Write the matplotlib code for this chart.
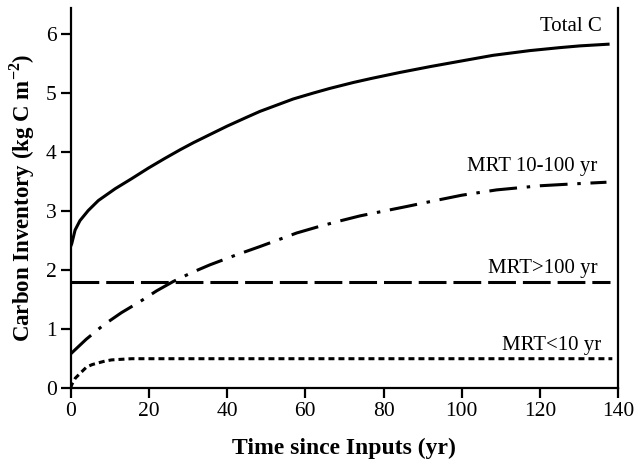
import numpy as np
import matplotlib
matplotlib.use('Agg')
import matplotlib.pyplot as plt
from matplotlib import rcParams

rcParams['font.family'] = 'Liberation Serif'
rcParams['mathtext.fontset'] = 'custom'
rcParams['mathtext.rm'] = 'Liberation Serif'
rcParams['mathtext.bf'] = 'Liberation Serif:bold'
rcParams['lines.scale_dashes'] = False

# carbon pools over time (kg C m-2)
t_total = [0, 0.3, 1.15, 2.4, 4.5, 7.1, 11.4, 15.6, 19.9, 24, 28, 31.4, 36, 40, 45, 48.4,
           56.9, 62, 66.3, 72.3, 77, 84.2, 92, 100.4, 108, 117.4, 125, 130.2, 137.8]
c_total = [2.40, 2.45, 2.68, 2.84, 3.01, 3.18, 3.38, 3.55, 3.73, 3.89, 4.04, 4.16, 4.31, 4.44,
           4.59, 4.69, 4.90, 5.00, 5.08, 5.18, 5.25, 5.35, 5.45, 5.55, 5.64, 5.72, 5.77, 5.80, 5.83]

t_mid = [0, 4, 8.4, 13, 17.8, 22, 26.3, 31, 35.6, 42, 48.4, 52.5, 57.8, 63, 68, 74, 80, 86,
         91.8, 100, 108.9, 120, 128, 137]
c_mid = [0.58, 0.83, 1.07, 1.28, 1.47, 1.65, 1.81, 1.96, 2.09, 2.25, 2.40, 2.50, 2.63, 2.73,
         2.82, 2.92, 3.00, 3.08, 3.16, 3.27, 3.36, 3.43, 3.46, 3.49]

t_slow = [0, 138]
c_slow = [1.8, 1.8]

t_fast = [0, 0.3, 1.2, 2.4, 4.1, 5.5, 7.1, 8.8, 10.5, 13, 15.6, 20, 40, 80, 138.5]
c_fast = [0.0, 0.06, 0.17, 0.25, 0.36, 0.40, 0.43, 0.46, 0.48, 0.49, 0.50, 0.50, 0.50, 0.50, 0.50]

fig = plt.figure(figsize=(6.36, 4.70), dpi=100)
ax = fig.add_axes([0.111, 0.174, 0.861, 0.810])

ax.plot(t_total, c_total, color='black', lw=2.2, solid_capstyle='butt')
ax.plot(t_mid, c_mid, color='black', lw=2.2, linestyle=(0, (20, 7, 2.5, 7)))
ax.plot(t_slow, c_slow, color='black', lw=2.2, linestyle=(0, (20, 5)))
ax.plot(t_fast, c_fast, color='black', lw=2.2, linestyle=(0, (4.3, 2.9)))

ax.text(135.7, 6.12, 'Total C', ha='right', va='center', fontsize=15)
ax.text(134.8, 3.76, 'MRT 10-100 yr', ha='right', va='center', fontsize=15)
ax.text(134.8, 2.03, 'MRT>100 yr', ha='right', va='center', fontsize=15)
ax.text(135.7, 0.72, 'MRT<10 yr', ha='right', va='center', fontsize=15)

ax.set_xlim(0, 140)
ax.set_ylim(0, 6.45)
ax.set_xticks(np.arange(0, 141, 20))
ax.set_yticks(np.arange(0, 7, 1))
ax.spines['top'].set_visible(False)
for s in ['left', 'bottom', 'right']:
    ax.spines[s].set_linewidth(1.6)
ax.tick_params(direction='out', length=7, width=1.6, labelsize=15.5, pad=3)

ax.set_xlabel('Time since Inputs (yr)', fontsize=17, fontweight='bold', labelpad=12)
ax.set_ylabel(r'Carbon Inventory (kg C m$^{\mathbf{-2}}$)', fontsize=16.5, fontweight='bold', labelpad=6)

plt.savefig('out.png', dpi=100)
